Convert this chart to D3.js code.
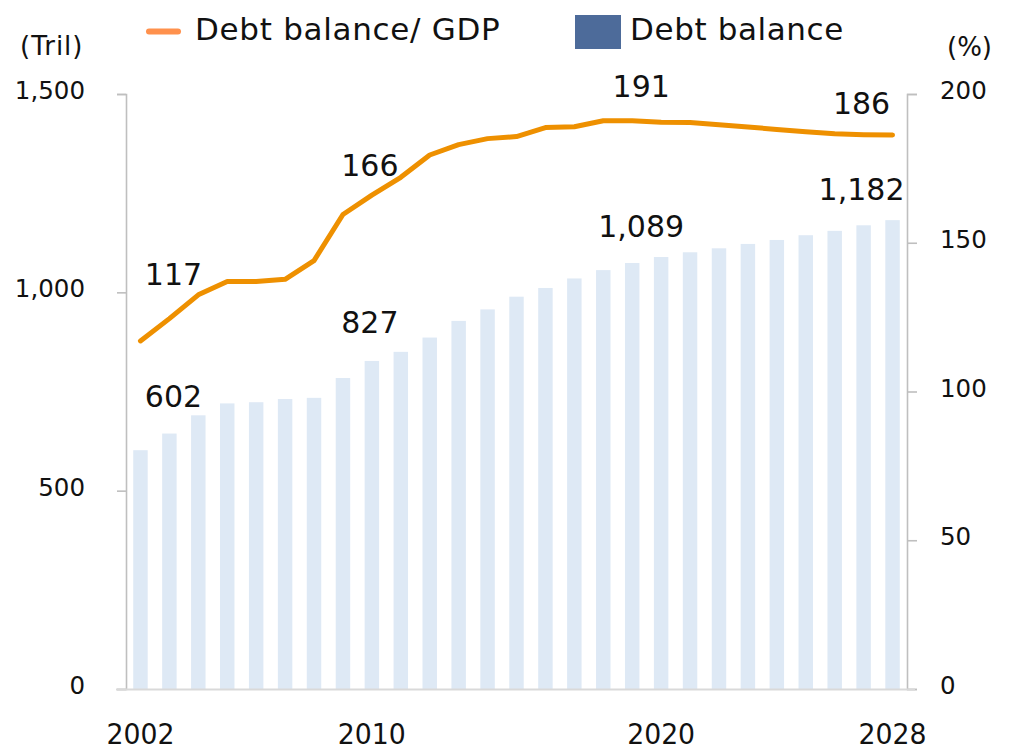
<!DOCTYPE html>
<html>
<head>
<meta charset="utf-8">
<script src="https://cdn.jsdelivr.net/npm/d3@7"></script>
<style>
  html, body { margin: 0; padding: 0; background: #fff; }
  svg { display: block; }
  text { font-family: "DejaVu Sans", sans-serif; fill: #111; }
</style>
</head>
<body>
<svg id="chart" width="1011" height="750"></svg>
<script>
// Government debt balance (trillions) and debt balance relative to GDP (%)
const years = ["2002","2003","2004","2005","2006","2007","2008","2009","2010","2011","2012","2013","2014",
               "2015","2016","2017","2018","2019","2020","2021","2022","2023","2024","2025","2026","2027","2028"];
const debtBalance = [602, 644, 690, 720, 723, 731, 734, 784, 827, 850, 886, 928, 957,
                     989, 1011, 1035, 1056, 1074, 1089, 1101, 1111, 1122, 1132, 1144, 1155, 1169, 1182];
const debtToGdp = [117, 124.5, 132.5, 137, 137, 137.7, 144, 159.5, 166, 172, 179.5, 183, 185,
                   185.7, 188.7, 189, 191, 191, 190.5, 190.4, 189.7, 188.9, 188.1, 187.3, 186.6, 186.3, 186.2];
const leftTicks = [0, 500, 1000, 1500];
const rightTicks = [0, 50, 100, 150, 200];
const yearTicks = ["2002", "2010", "2020", "2028"];
const seriesNames = ["Debt balance/ GDP", "Debt balance"];
const unitLeft = "(Tril)";
const unitRight = "(%)";
// years whose values are annotated
const barLabelYears = ["2002", "2010", "2020", "2028"];
const lineLabelYears = ["2002", "2010", "2019", "2028"];

const svg = d3.select("#chart");
const plot = { left: 126, right: 907, top: 94, bottom: 689 };

const x = d3.scaleBand().domain(years).range([plot.left, plot.right])
  .paddingInner(0.5).paddingOuter(0.25);
const yL = d3.scaleLinear().domain([0, 1500]).range([plot.bottom, plot.top]);
const yR = d3.scaleLinear().domain([0, 200]).range([plot.bottom, plot.top]);
const cx = d => x(d) + x.bandwidth() / 2;
const fmt = d3.format(",.0f");

// bars
svg.append("g").selectAll("rect")
  .data(years.map((yr, i) => ({ yr, v: debtBalance[i] })))
  .join("rect")
  .attr("x", d => x(d.yr))
  .attr("width", x.bandwidth())
  .attr("y", d => yL(d.v))
  .attr("height", d => yL(0) - yL(d.v))
  .attr("fill", "#dee9f5");

// axes
const axisColor = "#bfbfbf";
const gL = svg.append("g").attr("transform", `translate(${plot.left},0)`)
  .call(d3.axisLeft(yL).tickValues(leftTicks).tickSize(9).tickPadding(32).tickFormat(fmt));
const gR = svg.append("g").attr("transform", `translate(${plot.right},0)`)
  .call(d3.axisRight(yR).tickValues(rightTicks).tickSize(10).tickPadding(23).tickFormat(d3.format("d")));
[gL, gR].forEach(g => {
  g.selectAll("path, line").attr("stroke", axisColor).attr("stroke-width", 1.6);
  g.selectAll("text").attr("font-family", "DejaVu Sans").attr("font-size", 24.5)
    .attr("fill", "#111").attr("dy", "4.5px");
});

// baseline
svg.append("line")
  .attr("x1", plot.left - 10).attr("x2", plot.right + 8)
  .attr("y1", plot.bottom + 0.5).attr("y2", plot.bottom + 0.5)
  .attr("stroke", "#d9d9d9").attr("stroke-width", 2.2);

const gB = svg.append("g").attr("transform", `translate(0,${plot.bottom})`)
  .call(d3.axisBottom(x).tickValues(yearTicks).tickSize(0).tickPadding(0));
gB.select(".domain").remove();
gB.selectAll("text").attr("font-family", "Liberation Sans, Arial, sans-serif")
  .attr("font-size", 28).attr("fill", "#111").attr("dy", "55px")
  .attr("textLength", 68).attr("lengthAdjust", "spacingAndGlyphs");

// line
const line = d3.line().x((d, i) => cx(years[i])).y(d => yR(d));
svg.append("path").datum(debtToGdp)
  .attr("d", line)
  .attr("fill", "none")
  .attr("stroke", "#ee9000")
  .attr("stroke-width", 5)
  .attr("stroke-linejoin", "round")
  .attr("stroke-linecap", "round");

// value annotations
const barLabelShift = [[33, -43.5], [-2, -28], [-20, -20], [-31, -20]];
const lineLabelShift = [[33, -56], [-2, -19], [9, -24], [-31, -21]];
const labels = svg.append("g").attr("font-size", 30).attr("text-anchor", "middle");
barLabelYears.forEach((yr, k) => {
  const v = debtBalance[years.indexOf(yr)];
  labels.append("text")
    .attr("x", cx(yr) + barLabelShift[k][0])
    .attr("y", yL(v) + barLabelShift[k][1])
    .text(fmt(v));
});
lineLabelYears.forEach((yr, k) => {
  const v = debtToGdp[years.indexOf(yr)];
  labels.append("text")
    .attr("x", cx(yr) + lineLabelShift[k][0])
    .attr("y", yR(v) + lineLabelShift[k][1])
    .text(fmt(v));
});

// units
svg.append("text").attr("x", 20).attr("y", 55).attr("font-size", 26)
  .attr("letter-spacing", 1).text(unitLeft);
svg.append("text").attr("x", 947).attr("y", 56).attr("font-size", 26).text(unitRight);

// legend
const lg = svg.append("g");
lg.append("line").attr("x1", 149).attr("x2", 178).attr("y1", 31.5).attr("y2", 31.5)
  .attr("stroke", "#ff914d").attr("stroke-width", 6).attr("stroke-linecap", "round");
lg.append("text").attr("x", 195).attr("y", 40).attr("font-size", 31)
  .attr("letter-spacing", 0.7).text(seriesNames[0]);
lg.append("rect").attr("x", 575).attr("y", 15).attr("width", 46).attr("height", 34).attr("fill", "#4d6b9a");
lg.append("text").attr("x", 630).attr("y", 40).attr("font-size", 31)
  .attr("letter-spacing", 0.6).text(seriesNames[1]);
</script>
</body>
</html>
